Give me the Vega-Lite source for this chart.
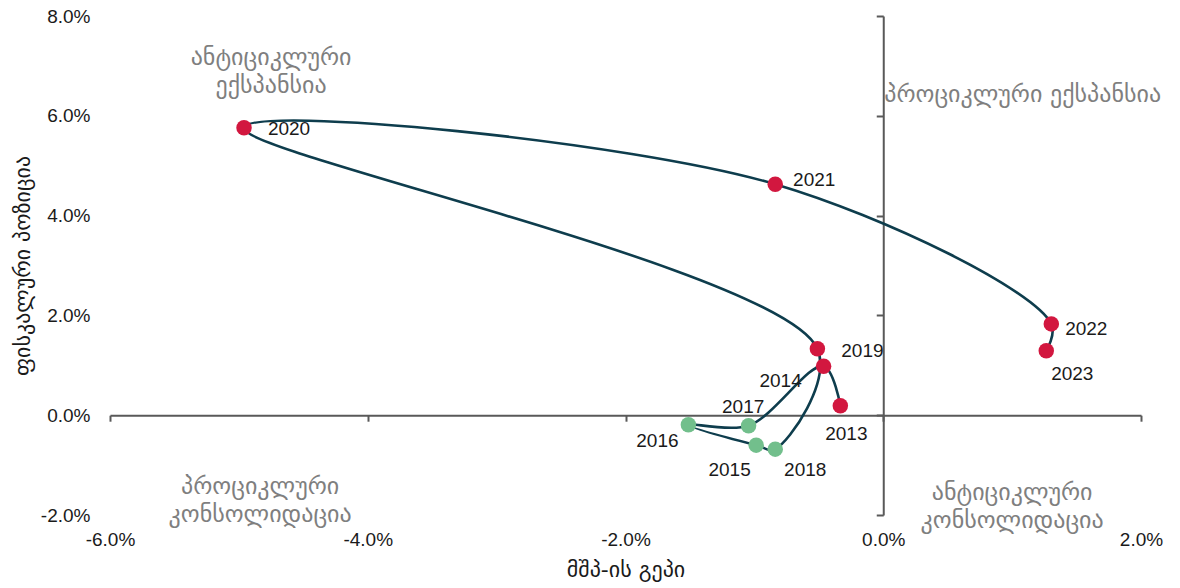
{
  "$schema": "https://vega.github.io/schema/vega-lite/v6.json",
  "width": 1031,
  "height": 499,
  "autosize": {"type": "none"},
  "padding": {"left": 110, "top": 16, "right": 39, "bottom": 73},
  "background": "white",
  "config": {
    "view": {"stroke": null},
    "font": "Liberation Sans"
  },
  "datasets": {
    "years": [
      {"year": 2013, "gap": -0.333, "fiscal": 0.19},
      {"year": 2014, "gap": -0.463, "fiscal": 0.98},
      {"year": 2015, "gap": -1.045, "fiscal": -0.21},
      {"year": 2016, "gap": -1.512, "fiscal": -0.19},
      {"year": 2017, "gap": -0.986, "fiscal": -0.60},
      {"year": 2018, "gap": -0.838, "fiscal": -0.68},
      {"year": 2019, "gap": -0.511, "fiscal": 1.33},
      {"year": 2020, "gap": -4.960, "fiscal": 5.76},
      {"year": 2021, "gap": -0.838, "fiscal": 4.63},
      {"year": 2022, "gap": 1.304, "fiscal": 1.83},
      {"year": 2023, "gap": 1.265, "fiscal": 1.29}
    ],
    "quadrants": [
      {"name": ["ანტიციკლური", "ექსპანსია"], "gap": -4.75, "fiscal": 6.90},
      {"name": ["პროციკლური", "კონსოლიდაცია"], "gap": -4.835, "fiscal": -1.70},
      {"name": ["ანტიციკლური", "კონსოლიდაცია"], "gap": 1.0, "fiscal": -1.82}
    ],
    "quadrantRight": [
      {"name": "პროციკლური ექსპანსია", "gap": 0, "fiscal": 6.42}
    ]
  },
  "encoding": {
    "x": {"field": "gap", "type": "quantitative", "scale": {"domain": [-6, 2], "nice": false, "zero": false}},
    "y": {"field": "fiscal", "type": "quantitative", "scale": {"domain": [-2, 8], "nice": false, "zero": false}}
  },
  "resolve": {"axis": {"x": "independent", "y": "independent"}},
  "layer": [
    {
      "data": {"name": "years"},
      "mark": {"type": "line", "interpolate": "catmull-rom", "color": "#0e3d4d", "strokeWidth": 2.6},
      "encoding": {
        "order": {"field": "year", "type": "quantitative"},
        "x": {
          "field": "gap", "type": "quantitative",
          "axis": {
            "orient": "bottom", "offset": -99.8, "values": [-6, -4, -2, 0, 2],
            "domain": true, "domainColor": "#595959", "domainWidth": 2,
            "ticks": true, "tickColor": "#595959", "tickWidth": 2, "tickSize": 6,
            "labels": false, "grid": false, "title": null
          }
        },
        "y": {
          "field": "fiscal", "type": "quantitative",
          "axis": {
            "orient": "left", "offset": -773.25, "values": [-2, 0, 2, 4, 6, 8],
            "domain": true, "domainColor": "#595959", "domainWidth": 2,
            "ticks": true, "tickColor": "#595959", "tickWidth": 2, "tickSize": 7,
            "labels": false, "grid": false, "title": null
          }
        }
      }
    },
    {
      "data": {"name": "years"},
      "mark": {"type": "circle", "size": 240, "opacity": 1},
      "encoding": {
        "x": {
          "field": "gap", "type": "quantitative",
          "axis": {
            "orient": "bottom", "values": [-6, -4, -2, 0, 2],
            "domain": false, "ticks": false, "tickSize": 0, "grid": false,
            "labelExpr": "(datum.value < 0 ? '-' : '') + format(abs(datum.value), '.1f') + '%'",
            "labelFont": "Liberation Sans", "labelFontSize": 19, "labelColor": "#1a1a1a",
            "labelPadding": 15, "labelFlush": false,
            "title": "მშპ-ის გეპი", "titleFont": "DejaVu Sans", "titleFontSize": 22,
            "titleFontWeight": "normal", "titleColor": "#1a1a1a", "titlePadding": 10
          }
        },
        "y": {
          "field": "fiscal", "type": "quantitative",
          "axis": {
            "orient": "left", "values": [-2, 0, 2, 4, 6, 8],
            "domain": false, "ticks": false, "tickSize": 0, "grid": false,
            "labelExpr": "(datum.value < 0 ? '-' : '') + format(abs(datum.value), '.1f') + '%'",
            "labelFont": "Liberation Sans", "labelFontSize": 19, "labelColor": "#1a1a1a",
            "labelPadding": 20, "labelFlush": false,
            "title": "ფისკალური პოზიცია", "titleFont": "DejaVu Sans", "titleFontSize": 22,
            "titleFontWeight": "normal", "titleColor": "#1a1a1a", "titlePadding": 6
          }
        },
        "color": {
          "condition": {"test": "datum.year >= 2015 && datum.year <= 2018", "value": "#72bf8c"},
          "value": "#d2173f"
        }
      }
    },
    {
      "data": {"name": "quadrants"},
      "mark": {"type": "text", "align": "center", "baseline": "middle", "dy": -13, "font": "DejaVu Sans", "fontSize": 24, "lineHeight": 28, "color": "#7f7f7f"},
      "encoding": {"text": {"field": "name"}, "x": {"field": "gap", "type": "quantitative", "axis": null}, "y": {"field": "fiscal", "type": "quantitative", "axis": null}}
    },
    {
      "data": {"name": "quadrantRight"},
      "mark": {"type": "text", "align": "left", "baseline": "middle", "dx": 1, "font": "DejaVu Sans", "fontSize": 24, "color": "#7f7f7f"},
      "encoding": {"text": {"field": "name"}, "x": {"field": "gap", "type": "quantitative", "axis": null}, "y": {"field": "fiscal", "type": "quantitative", "axis": null}}
    },
    {"data": {"name": "years"}, "transform": [{"filter": "datum.year == 2013"}], "mark": {"type": "text", "fontSize": 19, "color": "#1a1a1a", "dx": 6, "dy": 28}, "encoding": {"text": {"field": "year"}, "x": {"field": "gap", "type": "quantitative", "axis": null}, "y": {"field": "fiscal", "type": "quantitative", "axis": null}}},
    {"data": {"name": "years"}, "transform": [{"filter": "datum.year == 2014"}], "mark": {"type": "text", "fontSize": 19, "color": "#1a1a1a", "dx": -43, "dy": 15}, "encoding": {"text": {"field": "year"}, "x": {"field": "gap", "type": "quantitative", "axis": null}, "y": {"field": "fiscal", "type": "quantitative", "axis": null}}},
    {"data": {"name": "years"}, "transform": [{"filter": "datum.year == 2015"}], "mark": {"type": "text", "fontSize": 19, "color": "#1a1a1a", "dx": -19, "dy": 44}, "encoding": {"text": {"field": "year"}, "x": {"field": "gap", "type": "quantitative", "axis": null}, "y": {"field": "fiscal", "type": "quantitative", "axis": null}}},
    {"data": {"name": "years"}, "transform": [{"filter": "datum.year == 2016"}], "mark": {"type": "text", "fontSize": 19, "color": "#1a1a1a", "dx": -31, "dy": 16}, "encoding": {"text": {"field": "year"}, "x": {"field": "gap", "type": "quantitative", "axis": null}, "y": {"field": "fiscal", "type": "quantitative", "axis": null}}},
    {"data": {"name": "years"}, "transform": [{"filter": "datum.year == 2017"}], "mark": {"type": "text", "fontSize": 19, "color": "#1a1a1a", "dx": -13, "dy": -38}, "encoding": {"text": {"field": "year"}, "x": {"field": "gap", "type": "quantitative", "axis": null}, "y": {"field": "fiscal", "type": "quantitative", "axis": null}}},
    {"data": {"name": "years"}, "transform": [{"filter": "datum.year == 2018"}], "mark": {"type": "text", "fontSize": 19, "color": "#1a1a1a", "dx": 30, "dy": 21}, "encoding": {"text": {"field": "year"}, "x": {"field": "gap", "type": "quantitative", "axis": null}, "y": {"field": "fiscal", "type": "quantitative", "axis": null}}},
    {"data": {"name": "years"}, "transform": [{"filter": "datum.year == 2019"}], "mark": {"type": "text", "fontSize": 19, "color": "#1a1a1a", "dx": 45, "dy": 2}, "encoding": {"text": {"field": "year"}, "x": {"field": "gap", "type": "quantitative", "axis": null}, "y": {"field": "fiscal", "type": "quantitative", "axis": null}}},
    {"data": {"name": "years"}, "transform": [{"filter": "datum.year == 2020"}], "mark": {"type": "text", "fontSize": 19, "color": "#1a1a1a", "dx": 45, "dy": 1}, "encoding": {"text": {"field": "year"}, "x": {"field": "gap", "type": "quantitative", "axis": null}, "y": {"field": "fiscal", "type": "quantitative", "axis": null}}},
    {"data": {"name": "years"}, "transform": [{"filter": "datum.year == 2021"}], "mark": {"type": "text", "fontSize": 19, "color": "#1a1a1a", "dx": 39, "dy": -4}, "encoding": {"text": {"field": "year"}, "x": {"field": "gap", "type": "quantitative", "axis": null}, "y": {"field": "fiscal", "type": "quantitative", "axis": null}}},
    {"data": {"name": "years"}, "transform": [{"filter": "datum.year == 2022"}], "mark": {"type": "text", "fontSize": 19, "color": "#1a1a1a", "dx": 35, "dy": 5}, "encoding": {"text": {"field": "year"}, "x": {"field": "gap", "type": "quantitative", "axis": null}, "y": {"field": "fiscal", "type": "quantitative", "axis": null}}},
    {"data": {"name": "years"}, "transform": [{"filter": "datum.year == 2023"}], "mark": {"type": "text", "fontSize": 19, "color": "#1a1a1a", "dx": 26, "dy": 23}, "encoding": {"text": {"field": "year"}, "x": {"field": "gap", "type": "quantitative", "axis": null}, "y": {"field": "fiscal", "type": "quantitative", "axis": null}}}
  ]
}
